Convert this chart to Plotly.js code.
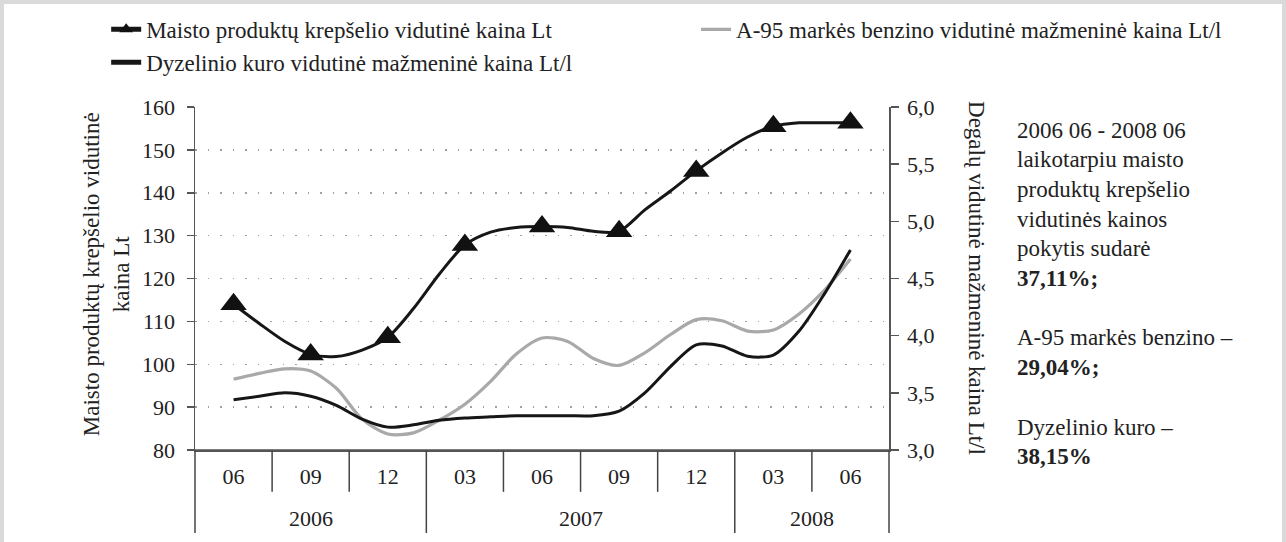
<!DOCTYPE html>
<html><head><meta charset="utf-8">
<script src="https://cdn.plot.ly/plotly-3.0.1.min.js"></script>
<style>
html,body{margin:0;padding:0;background:#fff;}
#wrap{position:relative;width:1286px;height:542px;overflow:hidden;}
#chart{width:1286px;height:542px;}
#frame{position:absolute;left:0;top:0;width:1286px;height:542px;box-sizing:border-box;border:4px solid #dadada;border-bottom:none;pointer-events:none;}
</style></head><body>
<div id="wrap"><div id="chart"></div><div id="frame"></div></div>
<script>
// ---- data ----
const months = ['2006-06','2006-07','2006-08','2006-09','2006-10','2006-11','2006-12',
  '2007-01','2007-02','2007-03','2007-04','2007-05','2007-06','2007-07','2007-08','2007-09',
  '2007-10','2007-11','2007-12','2008-01','2008-02','2008-03','2008-04','2008-05','2008-06'];
const foodBasket = [114, 109.5, 105.3, 102.3, 101.8, 103.3, 106.3, 113, 121, 127.8, 130.8, 131.9, 132.1,
  131.9, 131, 131, 136, 140.4, 145.1, 149.3, 153, 155.5, 156.3, 156.3, 156.3];
const petrolA95 = [3.62, 3.67, 3.71, 3.69, 3.54, 3.27, 3.14, 3.15, 3.26, 3.40, 3.60, 3.84, 3.98,
  3.95, 3.80, 3.74, 3.85, 4.01, 4.14, 4.13, 4.04, 4.05, 4.19, 4.40, 4.67];
const diesel = [3.44, 3.47, 3.50, 3.47, 3.39, 3.27, 3.20, 3.22, 3.26, 3.28, 3.29, 3.30, 3.30,
  3.30, 3.30, 3.34, 3.50, 3.73, 3.92, 3.91, 3.82, 3.83, 4.04, 4.37, 4.75];
const quarterMonths = ['2006-06','2006-09','2006-12','2007-03','2007-06','2007-09','2007-12','2008-03','2008-06'];
const quarterLabels = ['06','09','12','03','06','09','12','03','06'];
const quarterYears = ['2006','2006','2006','2007','2007','2007','2007','2008','2008'];
const sideText = [
  {t:'2006 06 - 2008 06', b:false},
  {t:'laikotarpiu maisto', b:false},
  {t:'produktų krepšelio', b:false},
  {t:'vidutinės kainos', b:false},
  {t:'pokytis sudarė', b:false},
  {t:'37,11%;', b:true},
  null,
  {t:'A-95 markės benzino –', b:false},
  {t:'29,04%;', b:true},
  null,
  {t:'Dyzelinio kuro –', b:false},
  {t:'38,15%', b:true}
];
const names = {
  food: 'Maisto produktų krepšelio vidutinė kaina Lt',
  petrol: 'A-95 markės benzino vidutinė mažmeninė kaina Lt/l',
  diesel: 'Dyzelinio kuro vidutinė mažmeninė kaina Lt/l'
};
const leftTitle = 'Maisto produktų krepšelio vidutinė<br>kaina Lt';
const rightTitle = 'Degalų vidutinė mažmeninė kaina Lt/l';

// ---- build ----
const FONT = 'Liberation Serif, Times New Roman, serif';
const TXT = '#222';
const x = months.map((m, i) => i);
const qIdx = quarterMonths.map(q => months.indexOf(q));
const isQuarter = months.map(m => quarterMonths.includes(m));
const xr = [qIdx[0] - 1.5, qIdx[qIdx.length - 1] + 1.5];
const toPaper = v => (v - xr[0]) / (xr[1] - xr[0]);

const traces = [
  {x: x, y: petrolA95, yaxis: 'y2', name: names.petrol, mode: 'lines', legend: 'legend2',
   line: {color: '#a9a9a9', width: 3.2, shape: 'spline', smoothing: 0.8}},
  {x: x, y: diesel, yaxis: 'y2', name: names.diesel, mode: 'lines', legendrank: 2,
   line: {color: '#161616', width: 3, shape: 'spline', smoothing: 0.8}},
  {x: x, y: foodBasket, yaxis: 'y', name: names.food, mode: 'lines+markers', legendrank: 1,
   line: {color: '#161616', width: 3, shape: 'spline', smoothing: 0.8},
   marker: {symbol: 'triangle-up', color: '#111', opacity: 1, line: {width: 0},
     size: isQuarter.map(q => q ? 23 : 0)}}
];

const shapes = [];
const boundaries = qIdx.map(v => v - 1.5).concat([qIdx[qIdx.length - 1] + 1.5]);
boundaries.forEach((b, k) => {
  const yearEdge = k === 0 || k === boundaries.length - 1 || quarterYears[k] !== quarterYears[k - 1];
  shapes.push({type: 'line', xref: 'paper', yref: 'paper', x0: toPaper(b), x1: toPaper(b),
    y0: 0, y1: yearEdge ? -0.242 : -0.122, line: {color: '#444', width: 1.5}});
});
// x axis baseline slightly overhanging both value axes
shapes.push({type: 'line', xref: 'paper', yref: 'paper', x0: -0.01, x1: 1.007, y0: 0, y1: 0,
  line: {color: '#555', width: 1.5}});

const annotations = [];
const years = [...new Set(quarterYears)];
years.forEach(yr => {
  const idx = qIdx.filter((v, i) => quarterYears[i] === yr);
  const c = (idx[0] + idx[idx.length - 1]) / 2;
  annotations.push({x: c, xref: 'x', y: -0.201, yref: 'paper', text: yr, showarrow: false,
    yanchor: 'middle', font: {family: FONT, size: 22, color: TXT}});
});
annotations.push({x: -0.128, xref: 'paper', y: 0.513, yref: 'paper', text: leftTitle, textangle: -90,
  showarrow: false, xanchor: 'center', yanchor: 'middle', align: 'center',
  font: {family: FONT, size: 23, color: TXT}});
annotations.push({x: 1.126, xref: 'paper', y: 0.5, yref: 'paper', text: rightTitle, textangle: 90,
  showarrow: false, xanchor: 'center', yanchor: 'middle',
  font: {family: FONT, size: 23, color: TXT}});
sideText.forEach((ln, i) => {
  if (!ln) return;
  const py = 130 + i * 29.7;
  annotations.push({x: 1.181, xref: 'paper', y: (450 - py) / 343, yref: 'paper', xanchor: 'left',
    yanchor: 'middle', showarrow: false, text: ln.b ? '<b>' + ln.t + '</b>' : ln.t,
    font: {family: FONT, size: 23, color: TXT}});
});

const axisCommon = {showline: true, linecolor: '#555', linewidth: 1.5, zeroline: false,
  tickfont: {family: FONT, size: 22, color: TXT}};
const layout = {
  width: 1286, height: 542,
  margin: {l: 195, r: 397, t: 107, b: 92, autoexpand: false},
  paper_bgcolor: '#fff', plot_bgcolor: '#fff',
  separators: ', ',
  font: {family: FONT, size: 22, color: TXT},
  showlegend: true,
  legend: {orientation: 'v', x: -0.128, xanchor: 'left', y: 1.289, yanchor: 'top',
    bgcolor: 'rgba(0,0,0,0)', font: {family: FONT, size: 23, color: TXT}, itemsizing: 'constant',
    traceorder: 'normal', tracegroupgap: 0},
  legend2: {orientation: 'v', x: 0.722, xanchor: 'left', y: 1.289, yanchor: 'top',
    bgcolor: 'rgba(0,0,0,0)', font: {family: FONT, size: 23, color: TXT}},
  xaxis: Object.assign({}, axisCommon, {range: xr, tickmode: 'array', tickvals: qIdx, ticktext: quarterLabels,
    ticks: '', showgrid: false, ticklabelstandoff: 6, automargin: false}),
  yaxis: Object.assign({}, axisCommon, {range: [80, 160], dtick: 10, ticks: 'outside', ticklen: 7,
    tickwidth: 1.5, tickcolor: '#555', showgrid: true, gridcolor: '#a0a0a0', gridwidth: 1.5,
    griddash: '1.5px,11px', ticklabelstandoff: 7, automargin: false}),
  yaxis2: Object.assign({}, axisCommon, {overlaying: 'y', side: 'right', range: [3, 6], dtick: 0.5,
    tickformat: '.1f', ticks: 'outside', ticklen: 8, tickwidth: 1.5, tickcolor: '#555', showgrid: false,
    ticklabelstandoff: 4, automargin: false}),
  shapes: shapes,
  annotations: annotations
};
Plotly.newPlot('chart', traces, layout, {displayModeBar: false, staticPlot: true});
</script>
</body></html>
